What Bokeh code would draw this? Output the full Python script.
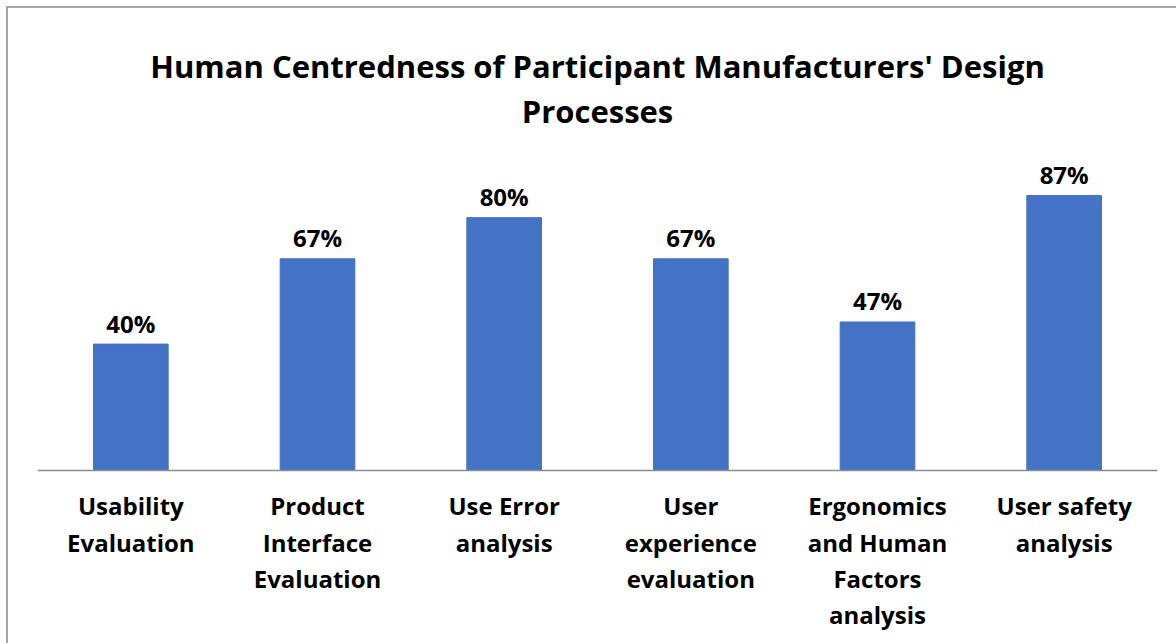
from bokeh.plotting import figure
from bokeh.models import ColumnDataSource, Title, FactorRange, Range1d, Span
from bokeh.core.properties import value
from bokeh.embed import file_html
from bokeh.resources import INLINE

categories = ["Usability Evaluation", "Product Interface Evaluation", "Use Error analysis",
              "User experience evaluation", "Ergonomics and Human Factors analysis",
              "User safety analysis"]
tick_labels = ["Usability\nEvaluation", "Product\nInterface\nEvaluation", "Use Error\nanalysis",
               "User\nexperience\nevaluation", "Ergonomics\nand Human\nFactors\nanalysis",
               "User safety\nanalysis"]
values = [0.40, 0.67, 0.80, 0.67, 0.47, 0.87]
value_labels = ["40%", "67%", "80%", "67%", "47%", "87%"]

FONT = "Open Sans"

src = ColumnDataSource(dict(cat=categories, val=values, lab=value_labels, tick=tick_labels,
                            zero=[0] * len(categories)))

p = figure(x_range=FactorRange(*categories, range_padding=0), y_range=Range1d(-0.5475, 1.0728),
           frame_width=1120, frame_height=512, output_backend="svg", toolbar_location=None,
           min_border_left=29, min_border_right=19, min_border_bottom=0, min_border_top=123)

p.title.text = "Human Centredness of Participant Manufacturers' Design"
p.title.align = "center"
p.title.offset = -2
p.title.text_font = FONT
p.title.text_font_style = "bold"
p.title.text_font_size = "31px"
p.title.text_color = "black"
p.title.standoff = 2
p.add_layout(Title(text="Processes", align="center", offset=-2,
                   text_font=FONT, text_font_style="bold", text_font_size="31px",
                   text_color="black", standoff=0), "above")

p.vbar(x="cat", top="val", width=0.4, source=src, color="#4472C4")
p.text(x="cat", y="val", text="lab", source=src, text_align="center", text_baseline="alphabetic",
       y_offset=-21, text_font=value(FONT), text_font_style="bold", text_font_size="24px",
       text_color="black")
p.text(x="cat", y="zero", text="tick", source=src, text_align="center", text_baseline="top",
       y_offset=19, text_font=value(FONT), text_font_style="bold", text_font_size="24px",
       text_color="black", text_line_height=1.1)

p.yaxis.visible = False
p.xgrid.visible = False
p.ygrid.visible = False
p.outline_line_color = None

ax = p.xaxis[0]
ax.fixed_location = 0
ax.major_tick_line_color = None
ax.minor_tick_line_color = None
ax.axis_line_color = None
ax.major_label_text_color = None

p.add_layout(Span(location=0, dimension="width", line_color="#8c8c8c", line_width=1.5))

p.styles = {"border-left": "2px solid #a6a6a6", "border-top": "2px solid #a6a6a6",
            "margin-left": "6px", "margin-top": "6px"}

open("out.html", "w").write(file_html(p, INLINE))
